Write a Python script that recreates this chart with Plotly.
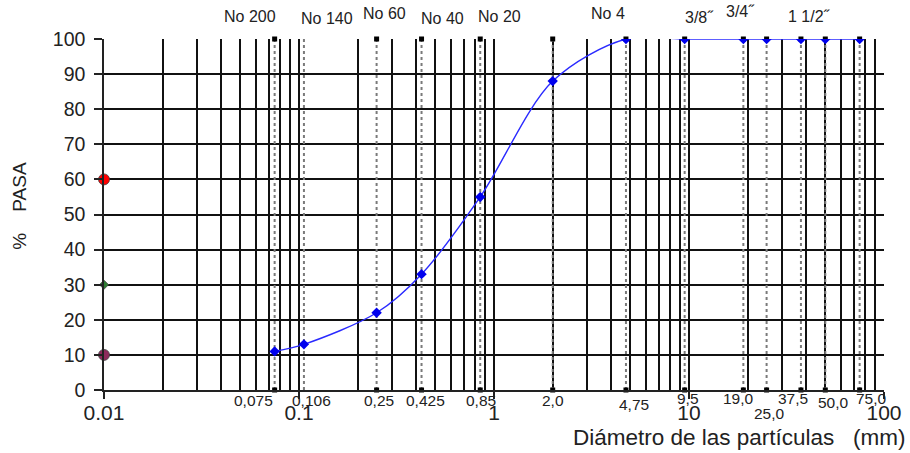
import plotly.graph_objects as go
import numpy as np

# ---- data ----
sieve_sizes = [0.075, 0.106, 0.25, 0.425, 0.85, 2.0, 4.75, 9.5, 19.0, 25.0, 37.5, 50.0, 75.0]
size_labels = ["0,075", "0,106", "0,25", "0,425", "0,85", "2,0", "4,75", "9,5", "19,0", "25,0", "37,5", "50,0", "75,0"]
percent_passing = [11, 13, 22, 33, 55, 88, 100, 100, 100, 100, 100, 100, 100]

sieve_names = ["No 200", "No 140", "No 60", "No 40", "No 20", "No 4", "3/8\u02dd", "3/4\u02dd", "1 1/2\u02dd"]
sieve_name_sizes = [0.075, 0.106, 0.25, 0.425, 0.85, 4.75, 9.5, 19.0, 37.5]

d_percent = [60, 30, 10]          # D60, D30, D10 marks on the axis
d_colors = ["#ff0000", "#2e7d32", "#8e2a5c"]
d_sizes = [11, 7, 11]
d_symbols = ["circle", "diamond", "circle"]
x_min = 0.01

decade_ticks = [0.01, 0.1, 1, 10, 100]
decade_text = ["0.01", "0.1", "1", "10", "100"]

# ---- label placement (pixel offsets) ----
name_xshift = [-25, 23, 8, 21, 19, -18, 15, -3, 9]
name_yshift = [23, 21, 26, 21, 23, 26, 22, 28, 23]
size_xshift = [-21, 8, 2, 4, 1, 0, 8, 3, -5, 3, -8, 8, 12]
size_yshift = [-10, -10, -10, -10, -10, -10, -14, -8, -8, -23, -8, -12, -8]

FONT = "Liberation Sans, Arial, sans-serif"
NB = "\u00a0"

fig = go.Figure()

# dotted sieve lines
lx, ly = [], []
for s in sieve_sizes:
    lx += [s, s, None]
    ly += [0, 100, None]
fig.add_trace(go.Scatter(x=lx, y=ly, mode="lines",
                         line=dict(color="#7a7a7a", width=2, dash="dot"),
                         hoverinfo="skip", showlegend=False))
# end squares
ex, ey = [], []
for s in sieve_sizes:
    if s == 0.106:
        continue
    ex += [s, s]
    ey += [0, 100]
fig.add_trace(go.Scatter(x=ex, y=ey, mode="markers",
                         marker=dict(symbol="square", size=5, color="black"),
                         hoverinfo="skip", showlegend=False, cliponaxis=False))

# gradation curve
fig.add_trace(go.Scatter(x=sieve_sizes, y=percent_passing, mode="lines+markers",
                         line=dict(color="#2a2aff", width=1.4, shape="spline", smoothing=0.9),
                         marker=dict(symbol="diamond", size=8, color="#0000ee"),
                         showlegend=False))

# D markers on axis
fig.add_trace(go.Scatter(x=[x_min] * len(d_percent), y=d_percent, mode="markers",
                         marker=dict(symbol=d_symbols, size=d_sizes, color=d_colors,
                                     opacity=1, line=dict(color="#444444", width=0.8)),
                         cliponaxis=False, showlegend=False))

annotations = []
for name, s, dx, dy in zip(sieve_names, sieve_name_sizes, name_xshift, name_yshift):
    annotations.append(dict(x=np.log10(s), y=1, xref="x", yref="paper", text=name,
                            showarrow=False, xanchor="center", yanchor="middle",
                            xshift=dx, yshift=dy,
                            font=dict(family=FONT, size=16, color="#222")))
for lab, s, dx, dy in zip(size_labels, sieve_sizes, size_xshift, size_yshift):
    annotations.append(dict(x=np.log10(s), y=0, xref="x", yref="paper", text=lab,
                            showarrow=False, xanchor="center", yanchor="middle",
                            xshift=dx, yshift=dy,
                            font=dict(family=FONT, size=15.5, color="#222")))
annotations.append(dict(x=0, y=0.525, xref="paper", yref="paper", text="%" + NB * 4 + "PASA",
                        textangle=-90, showarrow=False, xanchor="center", yanchor="middle",
                        xshift=-84, font=dict(family=FONT, size=19, color="#222")))
annotations.append(dict(x=1, y=0, xref="paper", yref="paper",
                        text="Diámetro de las partículas" + NB * 3 + "(mm)",
                        showarrow=False, xanchor="right", yanchor="middle",
                        xshift=24, yshift=-47, font=dict(family=FONT, size=22.5, color="#222")))

minor_vals = [m * 10.0 ** e for e in range(-2, 2) for m in range(2, 10)]

fig.update_layout(
    width=910, height=453,
    margin=dict(l=104, r=26, t=39, b=63, autoexpand=False),
    paper_bgcolor="white", plot_bgcolor="white",
    font=dict(family=FONT, color="#222"),
    annotations=annotations,
    xaxis=dict(type="log", range=[-2, 2], tickmode="array",
               tickvals=decade_ticks, ticktext=decade_text, automargin=False,
               ticks="outside", ticklen=7, tickcolor="#222", tickwidth=1.5,
               ticklabelstandoff=-4,
               showline=True, linecolor="#222", linewidth=1.5, mirror=False,
               showgrid=True, gridcolor="#111", gridwidth=1.5,
               minor=dict(tickmode="array", tickvals=minor_vals, showgrid=True,
                          gridcolor="#111", gridwidth=1.5, ticks=""),
               tickfont=dict(family=FONT, size=21, color="#222"),
               zeroline=False),
    yaxis=dict(range=[0, 100], dtick=10, tick0=0, automargin=False,
               ticks="outside", ticklen=8, tickcolor="#222", tickwidth=1.5,
               ticklabelstandoff=5,
               showline=True, linecolor="#222", linewidth=1.5,
               showgrid=True, gridcolor="#111", gridwidth=1.5,
               tickfont=dict(family=FONT, size=19.5, color="#222"),
               zeroline=False),
)

fig.write_html("out.html", config={"displayModeBar": False},
               post_script="document.body.style.margin='0';")
